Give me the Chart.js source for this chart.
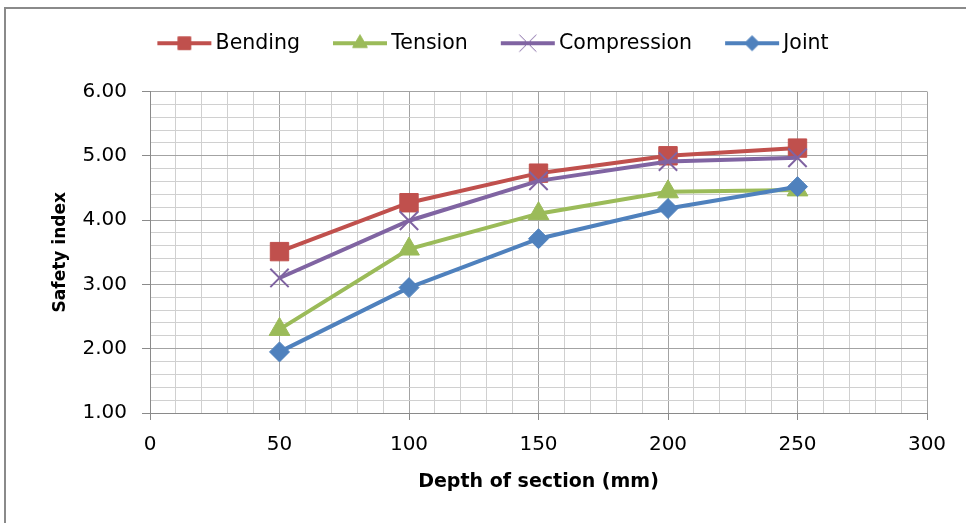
<!DOCTYPE html>
<html>
<head>
<meta charset="utf-8">
<script src="https://cdn.jsdelivr.net/npm/chart.js@4.4.1/dist/chart.umd.min.js"></script>
<style>
  html, body { margin: 0; padding: 0; background: #fff; }
  #wrap { position: relative; width: 966px; height: 523px; overflow: hidden; }
  #frame { position: absolute; left: 4px; top: 7px; right: -4px; bottom: -4px; border-top: 2px solid #8a8a8a; border-left: 2px solid #8a8a8a; }
  canvas { position: absolute; left: 0; top: 0; }
</style>
</head>
<body>
<div id="wrap">
  <div id="frame"></div>
  <canvas id="chart" width="966" height="523"></canvas>
</div>
<script>
// Data
const depths = [50, 100, 150, 200, 250];
const bending = [3.51, 4.27, 4.73, 5.00, 5.12];
const tension = [2.30, 3.55, 4.10, 4.44, 4.47];
const compression = [3.10, 3.99, 4.61, 4.91, 4.97];
const joint = [1.95, 2.95, 3.71, 4.18, 4.52];

const seriesNames = ['Bending', 'Tension', 'Compression', 'Joint'];
const seriesValues = [bending, tension, compression, joint];
const seriesColors = ['#C0504D', '#9BBB59', '#8064A2', '#4F81BD'];
const markerStyles = ['rect', 'triangle', 'crossRot', 'rectRot'];
const markerRadius = [13, 12, 13, 10];
const legendRadius = [9, 8.5, 12, 7.5];

const FONT = 'DejaVu Sans';

// Legend icons: line with marker in the middle
function makeIcon(i) {
	const c = document.createElement('canvas');
	c.width = 66;
	c.height = 20;
	const ctx = c.getContext('2d');
	ctx.strokeStyle = seriesColors[i];
	ctx.fillStyle = seriesColors[i];
	ctx.lineWidth = 4;
	ctx.beginPath();
	ctx.moveTo(11, 10);
	ctx.lineTo(65, 10);
	ctx.stroke();
	const bw = markerStyles[i] === 'crossRot' ? 1 : 1;
	ctx.lineWidth = bw;
	Chart.helpers.drawPoint(ctx, {
		pointStyle: markerStyles[i],
		radius: legendRadius[i],
		borderWidth: bw,
		rotation: 0
	}, 38, 10);
	return c;
}
const legendIcons = seriesNames.map((n, i) => makeIcon(i));

// extra room under the legend so the plot starts lower
const legendSpace = {
	id: 'legendSpace',
	afterInit(chart) {
		const legend = chart.legend;
		const fit = legend.fit;
		legend.fit = function () {
			fit.call(this);
			this.height += 28;
		};
	}
};

const datasets = seriesNames.map((name, i) => ({
	label: name,
	data: depths.map((d, j) => ({ x: d, y: seriesValues[i][j] })),
	borderColor: seriesColors[i],
	backgroundColor: seriesColors[i],
	borderWidth: 4,
	pointStyle: markerStyles[i],
	pointRadius: markerRadius[i],
	pointHoverRadius: markerRadius[i],
	pointBorderWidth: markerStyles[i] === 'crossRot' ? 2 : 1,
	pointBackgroundColor: seriesColors[i],
	pointBorderColor: seriesColors[i],
	tension: 0,
	order: seriesNames.length - i
}));

const isMajorY = v => Math.abs(v - Math.round(v)) < 1e-6;
const isMajorX = v => Math.abs(v % 50) < 1e-6;

new Chart(document.getElementById('chart'), {
	type: 'line',
	data: { datasets: datasets },
	plugins: [legendSpace],
	options: {
		responsive: false,
		animation: false,
		layout: { padding: { left: 55, right: 39, top: 4, bottom: 0 } },
		plugins: {
			tooltip: { enabled: false },
			legend: {
				position: 'top',
				labels: {
					usePointStyle: true,
					pointStyleWidth: 52,
					padding: 29,
					color: '#000',
					font: { family: FONT, size: 20.5 },
					sort: (a, b) => a.datasetIndex - b.datasetIndex,
					generateLabels(chart) {
						const items = Chart.defaults.plugins.legend.labels.generateLabels(chart);
						items.forEach(it => { it.pointStyle = legendIcons[it.datasetIndex]; });
						return items;
					}
				}
			}
		},
		scales: {
			x: {
				type: 'linear',
				min: 0,
				max: 300,
				afterFit(scale) { scale.height = 110; },
				ticks: {
					stepSize: 10,
					autoSkip: false,
					maxRotation: 0,
					padding: 13,
					color: '#000',
					font: { family: FONT, size: 20 },
					callback: v => isMajorX(v) ? String(v) : ''
				},
				grid: {
					color: ctx => isMajorX(ctx.tick.value) ? '#a3a3a3' : '#d0d0d0',
					tickColor: ctx => isMajorX(ctx.tick.value) ? '#8a8a8a' : 'rgba(0,0,0,0)',
					tickLength: 7,
					lineWidth: 1
				},
				border: { color: '#8a8a8a', width: 1 },
				title: {
					display: true,
					text: 'Depth of section (mm)',
					color: '#000',
					font: { family: FONT, size: 19, weight: 'bold' },
					padding: { top: 0, bottom: 30 }
				}
			},
			y: {
				min: 1,
				max: 6,
				afterFit(scale) { scale.width = 95; },
				ticks: {
					stepSize: 0.2,
					autoSkip: false,
					padding: 15,
					color: '#000',
					font: { family: FONT, size: 20 },
					callback: v => isMajorY(v) ? v.toFixed(2) : ''
				},
				grid: {
					color: ctx => isMajorY(ctx.tick.value) ? '#a3a3a3' : '#d0d0d0',
					tickColor: ctx => isMajorY(ctx.tick.value) ? '#8a8a8a' : 'rgba(0,0,0,0)',
					tickLength: 8,
					lineWidth: 1
				},
				border: { color: '#8a8a8a', width: 1 },
				title: {
					display: true,
					text: 'Safety index',
					color: '#000',
					font: { family: FONT, size: 17, weight: 'bold' },
					padding: { top: -5, bottom: 0 }
				}
			}
		}
	}
});
</script>
</body>
</html>
